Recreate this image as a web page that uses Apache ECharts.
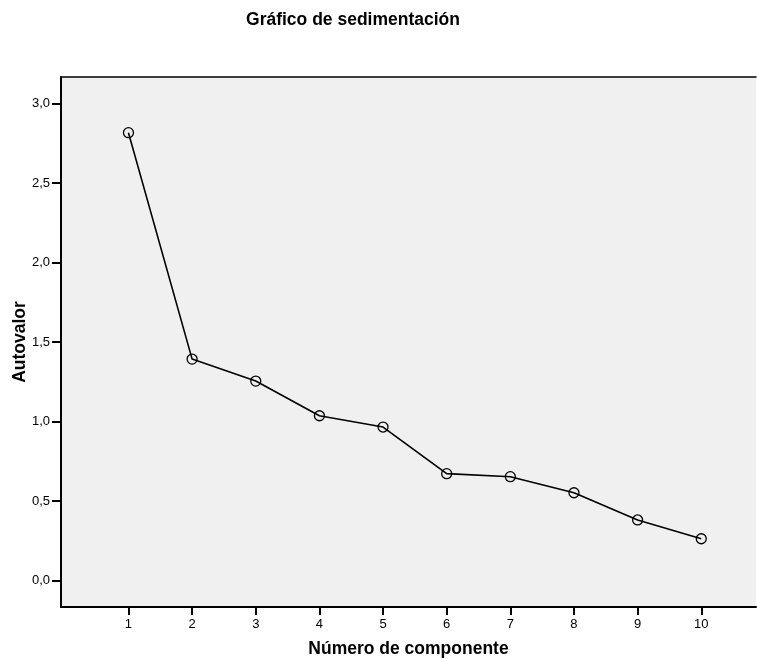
<!DOCTYPE html>
<html><head><meta charset="utf-8">
<script src="https://cdn.jsdelivr.net/npm/echarts@6/dist/echarts.min.js"></script>
<style>html,body{margin:0;padding:0;background:#fff}#c{width:757px;height:659px}</style>
</head><body><div id="c"></div>
<script>
const components = [1,2,3,4,5,6,7,8,9,10];
const eigenvalues = [2.816,1.393,1.255,1.037,0.966,0.673,0.654,0.553,0.382,0.264];
const yTicks = [0,0.5,1.0,1.5,2.0,2.5,3.0];
const titleText = 'Gráfico de sedimentación';
const xTitle = 'Número de componente';
const yTitle = 'Autovalor';

const font = 'Liberation Sans, Arial, sans-serif';
const chart = echarts.init(document.getElementById('c'), null, {renderer:'canvas'});
chart.setOption({
  animation:false,
  backgroundColor:'#fff',
  title:{text:titleText,left:348,top:6,textAlign:'center',
    textStyle:{fontFamily:font,fontSize:17.5,fontWeight:'bold',color:'#000'}},
  grid:{left:61,top:77,right:1,bottom:52,show:true,backgroundColor:'#f0f0f0',borderWidth:0,
    containLabel:false,outerBoundsMode:'none'},
  xAxis:[{
    type:'value',min:-0.06,max:10.86,
    axisLine:{show:true,onZero:false,lineStyle:{color:'#000',width:2}},
    axisTick:{show:true,customValues:components,length:8,lineStyle:{color:'#000',width:2}},
    axisLabel:{customValues:components,color:'#000',fontFamily:font,fontSize:13,margin:11},
    splitLine:{show:false},
    name:xTitle,nameLocation:'middle',nameGap:33,nameMoveOverlap:false,
    nameTextStyle:{fontFamily:font,fontSize:17.5,fontWeight:'bold',color:'#000'}
  },{
    type:'value',position:'top',min:-0.06,max:10.86,
    axisLine:{show:true,onZero:false,lineStyle:{color:'#000',width:1.5}},
    axisTick:{show:false},axisLabel:{show:false},splitLine:{show:false}
  }],
  yAxis:{
    type:'value',min:-0.165,max:3.166,
    axisLine:{show:true,onZero:false,lineStyle:{color:'#000',width:2}},
    axisTick:{show:true,customValues:yTicks,length:9,lineStyle:{color:'#000',width:2}},
    axisLabel:{customValues:yTicks,color:'#000',fontFamily:font,fontSize:13,margin:11,
      formatter:v=>v.toFixed(1).replace('.',',')},
    splitLine:{show:false},
    name:yTitle,nameLocation:'middle',nameGap:32,nameRotate:90,nameMoveOverlap:false,
    nameTextStyle:{fontFamily:font,fontSize:17.5,fontWeight:'bold',color:'#000'}
  },
  series:[{
    type:'line',
    data:components.map((c,i)=>[c,eigenvalues[i]]),
    symbol:'circle',symbolSize:10,
    itemStyle:{color:'rgba(0,0,0,0)',borderColor:'#000',borderWidth:1.3},
    lineStyle:{color:'#000',width:1.6}
  }]
});
</script></body></html>
